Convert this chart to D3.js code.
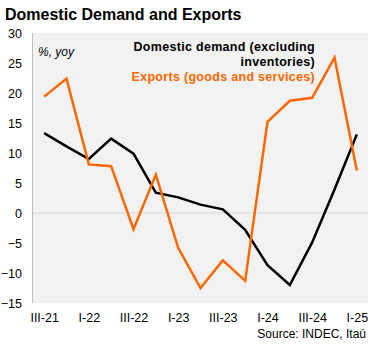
<!DOCTYPE html>
<html><head><meta charset="utf-8">
<script src="https://cdn.jsdelivr.net/npm/d3@7"></script>
<style>body{margin:0;background:#fff}svg{display:block;font-family:"Liberation Sans",Arial,sans-serif}</style>
</head><body><svg id="c" width="376" height="344"></svg>
<script>
const quarters = ["III-21","IV-21","I-22","II-22","III-22","IV-22","I-23","II-23","III-23","IV-23","I-24","II-24","III-24","IV-24","I-25"];
const domesticDemand = [13.3,11.1,9.0,12.4,9.9,3.4,2.6,1.4,0.6,-2.8,-8.7,-12.0,-4.9,3.9,13.1];
const exportsGS = [19.4,22.4,8.1,7.8,-2.7,6.4,-5.8,-12.5,-7.9,-11.3,15.2,18.7,19.2,25.9,7.1];
const yTicks = [30,25,20,15,10,5,0,-5,-10,-15];
const xTickLabels = ["III-21","I-22","III-22","I-23","III-23","I-24","III-24","I-25"];

const svg = d3.select("#c");
const L=33,R=368,T=33,B=303;
const x = d3.scalePoint().domain(quarters).range([L,R]).padding(0.5);
const y = d3.scaleLinear().domain([-15,30]).range([B,T]);

svg.append("rect").attr("x",L).attr("y",T).attr("width",R-L).attr("height",B-T).attr("fill","#f2f2f2");
svg.append("line").attr("x1",L).attr("x2",R).attr("y1",y(0)).attr("y2",y(0)).attr("stroke","#d9d9d9").attr("stroke-width",1);
svg.append("line").attr("x1",L-0.5).attr("x2",L-0.5).attr("y1",T).attr("y2",B).attr("stroke","#bfbfbf").attr("stroke-width",1);

svg.append("text").attr("x",5).attr("y",20).attr("font-size",16).attr("font-weight","bold").attr("fill","#000").text("Domestic Demand and Exports");

const ya = svg.append("g").attr("transform",`translate(${L},0)`).call(d3.axisLeft(y).tickValues(yTicks).tickSize(0).tickPadding(11));
ya.select(".domain").remove();
ya.selectAll("text").attr("font-size",12.5).attr("fill","#000").attr("font-family","Liberation Sans, Arial, sans-serif");

const xa = svg.append("g").attr("transform",`translate(0,${B})`).call(d3.axisBottom(x).tickValues(xTickLabels).tickSize(0).tickPadding(10));
xa.select(".domain").remove();
xa.selectAll("text").attr("font-size",12.5).attr("fill","#000").attr("font-family","Liberation Sans, Arial, sans-serif");

const line = d3.line().x((d,i)=>x(quarters[i])).y(d=>y(d));
svg.append("path").datum(domesticDemand).attr("d",line).attr("fill","none").attr("stroke","#000").attr("stroke-width",2.5).attr("stroke-linejoin","miter");
svg.append("path").datum(exportsGS).attr("d",line).attr("fill","none").attr("stroke","#ff6600").attr("stroke-width",2.5).attr("stroke-linejoin","miter");

svg.append("text").attr("x",38).attr("y",56).attr("font-size",12).attr("font-style","italic").text("%, yoy");
const lg = svg.append("g").attr("font-size",12.5).attr("font-weight","bold").attr("text-anchor","end").attr("letter-spacing",0.3);
lg.append("text").attr("x",315).attr("y",51).attr("fill","#000").text("Domestic demand (excluding");
lg.append("text").attr("x",315).attr("y",66).attr("fill","#000").text("inventories)");
lg.append("text").attr("x",315).attr("y",81).attr("fill","#ff6600").text("Exports (goods and services)");

svg.append("text").attr("x",366).attr("y",338).attr("font-size",12).attr("text-anchor","end").text("Source: INDEC, Itaú");
</script></body></html>
